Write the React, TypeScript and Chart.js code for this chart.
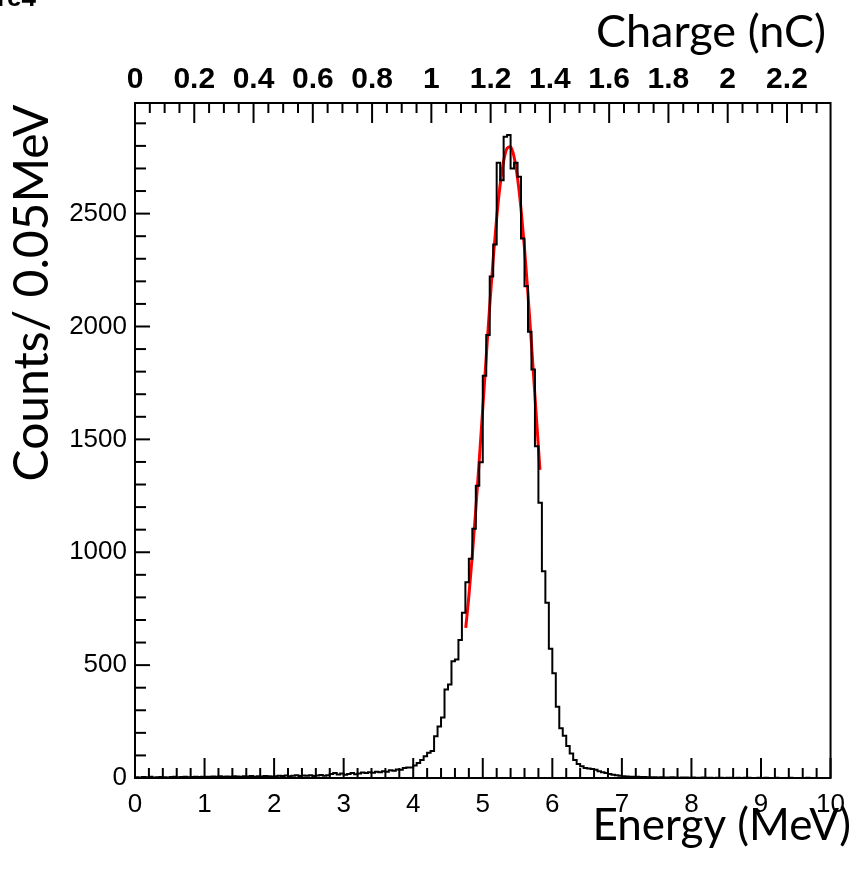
import { useEffect, useRef } from "react";
import { Chart, registerables } from "chart.js";

Chart.register(...registerables);

// ---- data ----
const binWidth = 0.05; // MeV per bin, bins start at 0 MeV
const counts = [
  3, 2, 4, 3, 5, 2, 3, 4, 3, 2, 4, 5, 3, 4, 6, 3, 4, 5, 4, 6,
  6, 5, 7, 6, 8, 5, 7, 6, 8, 7, 6, 8, 7, 9, 6, 8, 7, 9, 8, 7,
  8, 10, 9, 11, 8, 10, 12, 9, 11, 10, 12, 9, 11, 13, 10,
  12, 18, 22, 16, 20, 14, 18, 22, 17, 20, 24, 22, 26, 23, 28, 26, 30, 28, 34, 32, 38, 36, 44, 47, 46,
  55, 66, 80, 96, 112, 120, 185, 228, 268, 392, 414, 517, 525, 611, 732, 867, 971, 1104, 1295, 1399,
  1782, 1962, 2222, 2363, 2725, 2648, 2840, 2848, 2700, 2725, 2663, 2390, 2178, 1977, 1809, 1469, 1219, 916, 776, 572,
  464, 316, 220, 187, 142, 109, 80, 62, 52, 44, 42, 40, 36, 30, 26, 22, 18, 14, 12, 10,
  8, 7, 6, 5, 5, 4, 4, 3, 3, 3, 2, 3, 2, 2, 3, 2, 1, 2, 2, 1,
  2, 1, 1, 2, 1, 1, 0, 1, 1, 0, 1, 1, 0, 1, 0, 1, 1, 0, 0, 1,
  0, 1, 0, 0, 1, 0, 0, 0, 1, 0, 0, 0, 0, 1, 0, 0, 0, 0, 0, 0,
];

// red fit curve
const fitEnergy = [4.755, 4.8, 4.85, 4.9, 4.95, 5.0, 5.05, 5.1, 5.15, 5.2, 5.25, 5.3, 5.35, 5.4, 5.45, 5.5, 5.55, 5.6, 5.65, 5.7, 5.75, 5.8, 5.822];
const fitCounts = [665, 805, 988, 1191, 1410, 1638, 1868, 2092, 2299, 2481, 2628, 2733, 2790, 2796, 2751, 2657, 2520, 2346, 2143, 1923, 1693, 1464, 1365];

// axes
const energyMin = 0;
const energyMax = 10;
const energyTicks = [0, 1, 2, 3, 4, 5, 6, 7, 8, 9, 10];
const energyMinor = 0.2;
const countMin = 0;
const countMax = 2990;
const countTicks = [0, 500, 1000, 1500, 2000, 2500];
const countMinor = 100;
const chargeMin = 0;
const chargeMax = 2.347;
const chargeTicks = [0, 0.2, 0.4, 0.6, 0.8, 1, 1.2, 1.4, 1.6, 1.8, 2, 2.2];
const chargeLabels = ["0", "0.2", "0.4", "0.6", "0.8", "1", "1.2", "1.4", "1.6", "1.8", "2", "2.2"];
const chargeMinor = 0.05;

const xTitle = "Energy (MeV)";
const yTitle = "Counts/ 0.05MeV";
const topTitle = "Charge (nC)";
const cornerText = "Figure4";

const tickFont = "Liberation Sans, Arial, Helvetica, sans-serif";
const titleFont = "Lato, 'Open Sans', sans-serif";

function drawTicks(ctx: CanvasRenderingContext2D, scale: any, min: number, max: number, minor: number, majors: number[], edge: number, dir: number, horizontal: boolean, majLen: number, minLen: number) {
  const n = Math.floor((max - min) / minor + 1e-6);
  for (let i = 0; i <= n; i++) {
    const v = min + i * minor;
    const p = scale.getPixelForValue(v);
    const isMajor = majors.some((m) => Math.abs(m - v) < minor / 10);
    const len = isMajor ? majLen : minLen;
    ctx.beginPath();
    if (horizontal) {
      ctx.moveTo(p, edge);
      ctx.lineTo(p, edge + dir * len);
    } else {
      ctx.moveTo(edge, p);
      ctx.lineTo(edge + dir * len, p);
    }
    ctx.stroke();
  }
}

const decorPlugin = {
  id: "decor",
  afterDraw(chart: any) {
    const { ctx, chartArea } = chart;
    const { left, right, top, bottom } = chartArea;
    ctx.save();
    ctx.strokeStyle = "#000";
    ctx.lineWidth = 2;
    ctx.lineCap = "butt";
    drawTicks(ctx, chart.scales.x, energyMin, energyMax, energyMinor, energyTicks, bottom, -1, true, 20, 10);
    drawTicks(ctx, chart.scales.y, countMin, countMax, countMinor, countTicks, left, 1, false, 15, 11);
    drawTicks(ctx, chart.scales.x2, chargeMin, chargeMax, chargeMinor, chargeTicks, top, 1, true, 20, 10);
    ctx.strokeRect(left, top, right - left, bottom - top);

    ctx.fillStyle = "#000";
    ctx.textAlign = "right";
    ctx.textBaseline = "alphabetic";
    ctx.font = `45px ${titleFont}`;
    ctx.fillText(topTitle, 826, 47);
    ctx.font = `44px ${titleFont}`;
    ctx.fillText(xTitle, 851, 840);

    ctx.save();
    ctx.font = `48px ${titleFont}`;
    ctx.translate(48, 293);
    ctx.rotate(-Math.PI / 2);
    ctx.textAlign = "center";
    ctx.fillText(yTitle, 0, 0);
    ctx.restore();

    ctx.font = `bold 26px ${tickFont}`;
    ctx.textAlign = "right";
    ctx.fillText(cornerText, 36, 6);
    ctx.restore();
  },
};

export default function App() {
  const ref = useRef<HTMLCanvasElement>(null);
  useEffect(() => {
    const canvas = ref.current;
    if (!canvas) return;
    const histPoints = counts.map((c, i) => ({ x: energyMin + i * binWidth, y: c }));
    histPoints.push({ x: energyMin + counts.length * binWidth, y: counts[counts.length - 1] });
    const fitPoints = fitEnergy.map((e, i) => ({ x: e, y: fitCounts[i] }));
    const chart = new Chart(canvas, {
      type: "line",
      data: {
        datasets: [
          {
            label: "hist",
            data: histPoints,
            stepped: "before",
            borderColor: "#000",
            borderWidth: 2,
            pointRadius: 0,
            fill: false,
            xAxisID: "x",
            yAxisID: "y",
          },
          {
            label: "fit",
            data: fitPoints,
            borderColor: "#ff0000",
            borderWidth: 3,
            pointRadius: 0,
            fill: false,
            cubicInterpolationMode: "monotone",
            xAxisID: "x",
            yAxisID: "y",
          },
        ],
      },
      options: {
        responsive: false,
        animation: false,
        devicePixelRatio: 1,
        layout: { padding: { left: 0, right: 18, top: 0, bottom: 0 } },
        plugins: { legend: { display: false }, tooltip: { enabled: false } },
        scales: {
          x: {
            type: "linear",
            position: "bottom",
            min: energyMin,
            max: energyMax,
            grid: { display: false, drawTicks: false },
            border: { display: false },
            afterBuildTicks: (s: any) => { s.ticks = energyTicks.map((v) => ({ value: v })); },
            ticks: {
              autoSkip: false,
              maxRotation: 0,
              color: "#000",
              padding: 11,
              font: { family: tickFont, size: 26 },
              callback: (v: any) => String(v),
            },
            afterFit: (s: any) => { s.height = 93; },
          },
          x2: {
            type: "linear",
            position: "top",
            min: chargeMin,
            max: chargeMax,
            grid: { display: false, drawTicks: false },
            border: { display: false },
            afterBuildTicks: (s: any) => { s.ticks = chargeTicks.map((v) => ({ value: v })); },
            ticks: {
              autoSkip: false,
              maxRotation: 0,
              color: "#000",
              padding: 5,
              font: { family: tickFont, size: 30, weight: "bold" },
              callback: (_v: any, i: number) => chargeLabels[i],
            },
            afterFit: (s: any) => { s.height = 103; },
          },
          y: {
            type: "linear",
            position: "left",
            min: countMin,
            max: countMax,
            grid: { display: false, drawTicks: false },
            border: { display: false },
            afterBuildTicks: (s: any) => { s.ticks = countTicks.map((v) => ({ value: v })); },
            ticks: {
              autoSkip: false,
              color: "#000",
              padding: 8,
              font: { family: tickFont, size: 26 },
              callback: (v: any) => String(v),
            },
            afterFit: (s: any) => { s.width = 135; },
          },
        },
      },
      plugins: [decorPlugin],
    } as any);
    return () => chart.destroy();
  }, []);
  return (
    <div style={{ position: "absolute", left: 0, top: 0, width: 856, height: 871, background: "#fff" }}>
      <canvas ref={ref} width={856} height={871} style={{ display: "block", width: 856, height: 871 }} />
    </div>
  );
}
